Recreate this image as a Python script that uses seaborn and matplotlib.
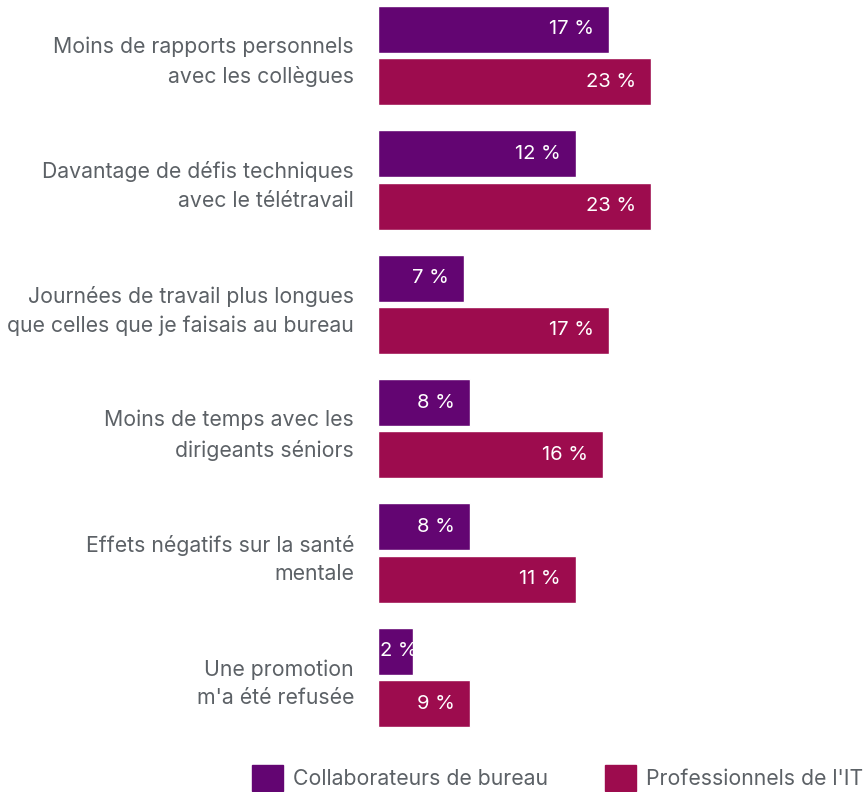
import pandas as pd
import numpy as np
import matplotlib
matplotlib.use('Agg')
import matplotlib.pyplot as plt
import seaborn as sns

sns.set_style('white')
plt.rcParams['font.family'] = ['Inter', 'DejaVu Sans']

categories = ["Moins de rapports personnels\navec les collègues",
              "Davantage de défis techniques\navec le télétravail",
              "Journées de travail plus longues\nque celles que je faisais au bureau",
              "Moins de temps avec les\ndirigeants séniors",
              "Effets négatifs sur la santé\nmentale",
              "Une promotion\nm'a été refusée"]
series = ["Collaborateurs de bureau", "Professionnels de l'IT"]

# printed labels (%)
office_pct = [17, 12, 7, 8, 8, 2]
it_pct = [23, 23, 17, 16, 11, 9]
# bar lengths as drawn in the picture (not proportional to the labels)
office_len = [19.5, 16.7, 7.25, 7.75, 7.75, 2.95]
it_len = [23.0, 23.0, 19.5, 18.95, 16.7, 7.75]

colors = ["#630572", "#9d0c4e"]
grey = "#5c6166"

df = pd.DataFrame({
    'cat': categories * 2,
    'val': office_len + it_len,
    'groupe': [series[0]] * 6 + [series[1]] * 6,
})

fig = plt.figure(figsize=(8.66, 7.92), dpi=100)
ax = fig.add_axes([378 / 866, 52 / 792, 488 / 866, 740 / 792])

sns.barplot(data=df, x='val', y='cat', hue='groupe', orient='h',
            palette=colors, width=0.84, gap=0.1, saturation=1,
            ax=ax, legend=False)

ax.set_xlim(0, 488 / 11.87)
ax.set_ylim((740 - 55.5) / 124.4, -55.5 / 124.4)
ax.set_xlabel('')
ax.set_ylabel('')
ax.set_xticks([])
sns.despine(ax=ax, left=True, bottom=True)
ax.tick_params(axis='y', length=0, pad=17.3, labelsize=15.3, labelcolor=grey)
for t in ax.get_yticklabels():
    t.set_linespacing(1.54)

for cont, labs in zip(ax.containers, [office_pct, it_pct]):
    for bar, lab in zip(cont, labs):
        w = bar.get_width()
        y = bar.get_y() + bar.get_height() / 2
        txt = f"{lab} %"
        if w < 4:
            ax.annotate(txt, (0, y), xytext=(1.5, 0), textcoords='offset points',
                        ha='left', va='center', color='white', fontsize=14.5)
        else:
            ax.annotate(txt, (w, y), xytext=(-11, 0), textcoords='offset points',
                        ha='right', va='center', color='white', fontsize=14.5)

handles = [plt.Rectangle((0, 0), 1, 1, color=c) for c in colors]
fig.legend(handles, series, loc='center left', bbox_to_anchor=(252 / 866, 14 / 792),
           ncol=2, frameon=False, fontsize=15.3, labelcolor=grey,
           handlelength=1.46, handleheight=1.46, handletextpad=0.47,
           columnspacing=2.68, borderpad=0, borderaxespad=0)

fig.savefig('out.png', dpi=100)
